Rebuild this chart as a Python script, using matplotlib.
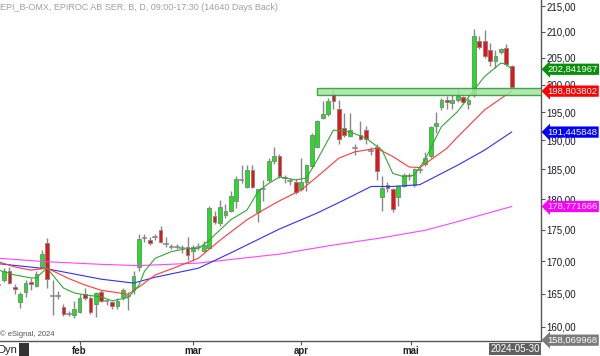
import matplotlib
matplotlib.use('Agg')
import matplotlib.pyplot as plt
import numpy as np
from matplotlib.transforms import blended_transform_factory
from matplotlib.ticker import FixedLocator, FuncFormatter, NullLocator, NullFormatter
from matplotlib.patches import Rectangle

plt.rcParams['font.family'] = ['Liberation Sans', 'DejaVu Sans']

# ---------------- data ----------------
bar_index = list(range(-1, 95))
opens = [166.3, 167.1, 168.4, 166.0, 163.7, 165.2, 166.8, 166.2, 169.1, 172.8,
         164.6, 164.7, 163.0, 161.9, 161.8, 162.2, 165.0, 164.3, 163.4, 165.2,
         163.8, 163.7, 163.1, 164.5, 164.6, 165.5, 169.1, 173.6, 173.4, 173.9,
         175.0, 172.7, 172.3, 172.3, 172.0, 172.2, 171.6, 172.2, 171.6, 172.1,
         177.2, 176.0, 177.4, 178.0, 179.7, 183.2, 182.0, 184.8, 177.8, 181.6,
         183.2, 186.5, 187.3, 183.5, 183.0, 182.9, 181.6, 182.8, 185.5, 188.9,
         194.0, 194.7, 198.3, 195.5, 192.1, 190.8, 188.6, 190.9, 191.8, 188.2,
         188.9, 180.3, 182.3, 181.6, 180.4, 182.1, 183.9, 182.3, 184.9, 185.9,
         187.3, 192.5, 196.0, 197.1, 196.7, 197.2, 197.8, 196.4, 198.1, 208.2,
         208.1, 206.5, 204.4, 206.0, 206.9, 203.5]
highs = [166.8, 168.9, 169.1, 166.4, 165.2, 167.1, 167.4, 168.5, 171.8, 173.6,
         167.1, 165.4, 163.4, 162.4, 163.8, 165.0, 165.8, 164.6, 165.3, 165.5,
         164.2, 163.9, 164.3, 165.9, 165.2, 168.5, 174.3, 174.3, 173.9, 174.3,
         175.6, 173.9, 172.7, 172.7, 172.6, 173.9, 172.6, 172.8, 173.2, 178.8,
         178.0, 179.8, 179.1, 181.3, 183.8, 185.7, 185.7, 185.8, 181.7, 183.2,
         187.0, 188.9, 187.6, 184.0, 183.6, 183.3, 186.9, 185.9, 191.2, 193.6,
         197.0, 197.6, 199.1, 197.2, 194.8, 194.8, 189.3, 193.4, 192.6, 188.9,
         189.3, 183.8, 182.9, 181.9, 182.3, 184.4, 184.3, 185.3, 185.6, 188.0,
         192.6, 195.0, 197.5, 197.9, 198.1, 199.1, 198.0, 197.6, 210.6, 209.2,
         210.3, 207.8, 206.4, 206.9, 207.6, 203.7]
lows = [165.8, 166.8, 166.4, 165.0, 162.8, 164.5, 165.5, 166.0, 168.9, 165.8,
        161.8, 164.2, 161.7, 161.6, 161.4, 162.0, 164.0, 161.9, 161.5, 163.7,
        163.3, 162.7, 162.6, 164.0, 162.5, 165.0, 168.5, 173.0, 172.6, 173.4,
        172.9, 172.2, 171.9, 171.9, 171.3, 170.2, 170.0, 171.8, 171.4, 172.0,
        175.9, 175.6, 176.9, 177.8, 178.5, 182.6, 181.8, 181.8, 176.2, 179.6,
        182.8, 185.9, 183.5, 182.6, 182.3, 180.8, 181.3, 181.3, 185.2, 188.6,
        193.8, 194.3, 195.5, 189.3, 190.5, 190.5, 187.5, 190.0, 189.3, 187.4,
        183.2, 178.0, 181.2, 177.9, 178.9, 182.0, 183.2, 182.0, 184.3, 185.6,
        187.0, 191.2, 195.4, 195.6, 195.6, 196.8, 196.4, 195.6, 197.8, 206.6,
        205.0, 203.5, 203.0, 205.8, 203.4, 199.4]
closes = [166.3, 168.4, 166.6, 165.7, 164.9, 166.6, 166.4, 168.0, 171.1, 167.2,
          164.6, 164.7, 161.9, 161.9, 162.7, 164.4, 164.3, 162.2, 165.1, 163.9,
          163.8, 163.1, 163.8, 165.6, 164.6, 167.7, 173.5, 173.6, 172.8, 173.9,
          173.1, 172.7, 172.3, 172.3, 172.0, 170.9, 172.2, 172.2, 172.5, 178.5,
          176.2, 178.7, 178.0, 180.5, 183.3, 183.2, 184.8, 182.0, 181.6, 181.6,
          186.5, 187.3, 183.9, 183.5, 183.0, 181.2, 182.8, 185.7, 190.9, 193.4,
          194.6, 197.0, 197.0, 190.2, 190.9, 191.8, 188.6, 190.3, 190.3, 188.2,
          184.7, 181.8, 181.9, 178.3, 182.1, 184.1, 183.9, 185.1, 184.9, 186.9,
          192.4, 193.0, 197.2, 196.8, 197.2, 197.9, 196.9, 197.2, 209.1, 207.0,
          205.3, 204.4, 205.4, 206.6, 203.8, 199.5]

ma_green_idx = [-1, 2, 5, 6, 7, 8, 9, 11, 13, 15, 18, 20, 23, 25, 26, 28, 31, 34, 36,
                38, 40, 42, 45, 47, 49, 51, 54, 56, 58, 61, 64, 67, 70, 72, 74, 76,
                78, 80, 81, 83, 84, 87, 89, 92, 93, 94]
ma_green = [168.6, 167.85, 167.4, 167.4, 168.2, 168.9, 167.85, 165.85, 165.1, 164.8,
            164.5, 163.9, 164.4, 166.3, 168.4, 170.45, 171.5, 172.0, 172.0,
            173.3, 174.95, 176.6, 178.2, 181.2, 182.6, 183.7, 183.2, 183.5, 186.6,
            191.8, 191.5, 190.4, 188.3, 184.3, 183.75, 184.0, 186.7, 190.5, 192.4,
            194.2, 195.1, 199.0, 201.5, 204.0, 203.8, 202.84]
ma_red_idx = [-1, 2, 5, 8, 12, 15, 18, 23, 25, 28, 32, 36, 40, 45, 48, 51, 55, 58,
              62, 65, 69, 72, 75, 77, 79, 82, 84, 89, 94]
ma_red = [169.9, 169.1, 168.6, 168.9, 167.3, 166.3, 165.5, 164.9, 166.0, 167.85,
          169.1, 170.45, 173.3, 176.6, 178.2, 179.7, 181.5, 183.75, 186.9, 188.0,
          188.6, 187.2, 185.4, 185.3, 186.6, 188.6, 190.6, 195.4, 198.8]
ma_blue_idx = [-1, 8, 18, 24, 28, 36, 42, 51, 58, 63, 68, 72, 77, 84, 89, 94]
ma_blue = [169.6, 168.8, 167.2, 166.6, 167.5, 168.9, 171.3, 175.1, 177.7, 179.85,
           182.1, 182.1, 182.4, 185.7, 188.3, 191.45]
ma_mag_idx = [-1, 8, 18, 25, 36, 51, 60, 70, 78, 84, 94]
ma_mag = [170.45, 169.9, 169.5, 169.3, 169.7, 171.1, 172.4, 173.7, 174.9, 176.3, 178.77]

band_start = 58
band_low, band_high = 198.1, 199.4

month_pos = [14, 35, 55, 75.4]
month_labels = ['feb', 'mar', 'apr', 'mai']
y_ticks = [160, 165, 170, 175, 180, 185, 190, 195, 200, 205, 210, 215]

tags = [(202.841967, '202,841967', '#0a8f0a'),
        (198.803802, '198,803802', '#ff0000'),
        (191.445848, '191,445848', '#0000ff'),
        (178.771666, '178,771666', '#ff00ff'),
        (158.069968, '158,069968', '#7a7a7a')]
last_date = '2024-05-30'
title = 'EPI_B-OMX, EPIROC AB SER. B, D, 09:00-17:30 (14640 Days Back)'

# ---------------- figure ----------------
W, H = 600, 356
fig = plt.figure(figsize=(6, 3.56), dpi=100)
ax = fig.add_axes([0, 15 / H, 541 / W, 341 / H])
ax.set_yscale('log')
ax.set_ylim(157.95, 216.2)
ax.set_xlim(-0.74, 99.44)

green_c = '#19e619'
red_c = '#ee1111'
gray_c = '#888888'
bw = 0.7
for x, o, h, l, c in zip(bar_index, opens, highs, lows, closes):
    ax.plot([x, x], [l, h], color=gray_c, lw=1.0, zorder=2, solid_capstyle='butt')
    if c > o:
        ax.add_patch(Rectangle((x - bw / 2, o), bw, c - o, facecolor=green_c,
                               edgecolor=gray_c, lw=0.7, zorder=3))
    elif c < o:
        ax.add_patch(Rectangle((x - bw / 2, c), bw, o - c, facecolor=red_c,
                               edgecolor=gray_c, lw=0.7, zorder=3))
    else:
        ax.plot([x - bw / 2, x + bw / 2], [o, o], color=gray_c, lw=1.2, zorder=3)

ax.plot(ma_mag_idx, ma_mag, color='#ff44ff', lw=0.8, zorder=4)
ax.plot(ma_blue_idx, ma_blue, color='#3030ff', lw=0.8, zorder=4)
ax.plot(ma_red_idx, ma_red, color='#ff3a3a', lw=0.8, zorder=4)
ax.plot(ma_green_idx, ma_green, color='#30a830', lw=0.8, zorder=4)

ax.add_patch(Rectangle((band_start, band_low), 200, band_high - band_low,
                       facecolor='#a8e0a8', edgecolor='#1f9f1f', lw=1.0,
                       alpha=0.85, zorder=5))

for s in ['top', 'left']:
    ax.spines[s].set_visible(False)
for s in ['right', 'bottom']:
    ax.spines[s].set_color('#555555')
    ax.spines[s].set_linewidth(1.0)

ax.yaxis.tick_right()
ax.yaxis.set_major_locator(FixedLocator(y_ticks))
ax.yaxis.set_minor_locator(NullLocator())
ax.yaxis.set_minor_formatter(NullFormatter())
ax.yaxis.set_major_formatter(FuncFormatter(lambda v, p: f'{v:.2f}'.replace('.', ',')))
ax.tick_params(axis='y', direction='out', length=3, width=0.8, color='#555555',
               pad=1, labelsize=7, labelcolor='#1a1a2a')

ax.xaxis.set_major_locator(FixedLocator(month_pos))
ax.set_xticklabels(month_labels)
ax.tick_params(axis='x', direction='out', length=3, width=0.8, color='#555555',
               pad=0.5, labelsize=7, labelcolor='#222222')
for t in ax.get_xticklabels():
    t.set_fontweight('bold')

tr = blended_transform_factory(ax.transAxes, ax.transData)
for val, txt, col in tags:
    ax.text(1.012, val, txt, transform=tr, color='white', fontsize=6.8,
            va='center', ha='left', clip_on=False, zorder=10,
            bbox=dict(boxstyle='larrow,pad=0.12', fc=col, ec='none'))

fig.text(0, 1 - 8 / H, title, fontsize=6.5, color='#a0a0a0', va='center', ha='left')
fig.text(0, 1 - 334 / H, '\u00a9 eSignal, 2024', fontsize=5.5, color='#555555',
         va='center', ha='left')
fig.text(-3 / W, 1 - 350 / H, 'Dyn', fontsize=8, color='#222222', va='center', ha='left')
fig.patches.append(Rectangle((19 / W, 1 - 356 / H), 10 / W, 13 / H, transform=fig.transFigure,
                             facecolor='#333333', edgecolor='none', figure=fig))
fig.text(515 / W, 1 - 349 / H, last_date, fontsize=7, color='white', va='center',
         ha='center', bbox=dict(boxstyle='square,pad=0.15', fc='#606060', ec='none'))

fig.savefig('out.png', dpi=100, facecolor='white')
